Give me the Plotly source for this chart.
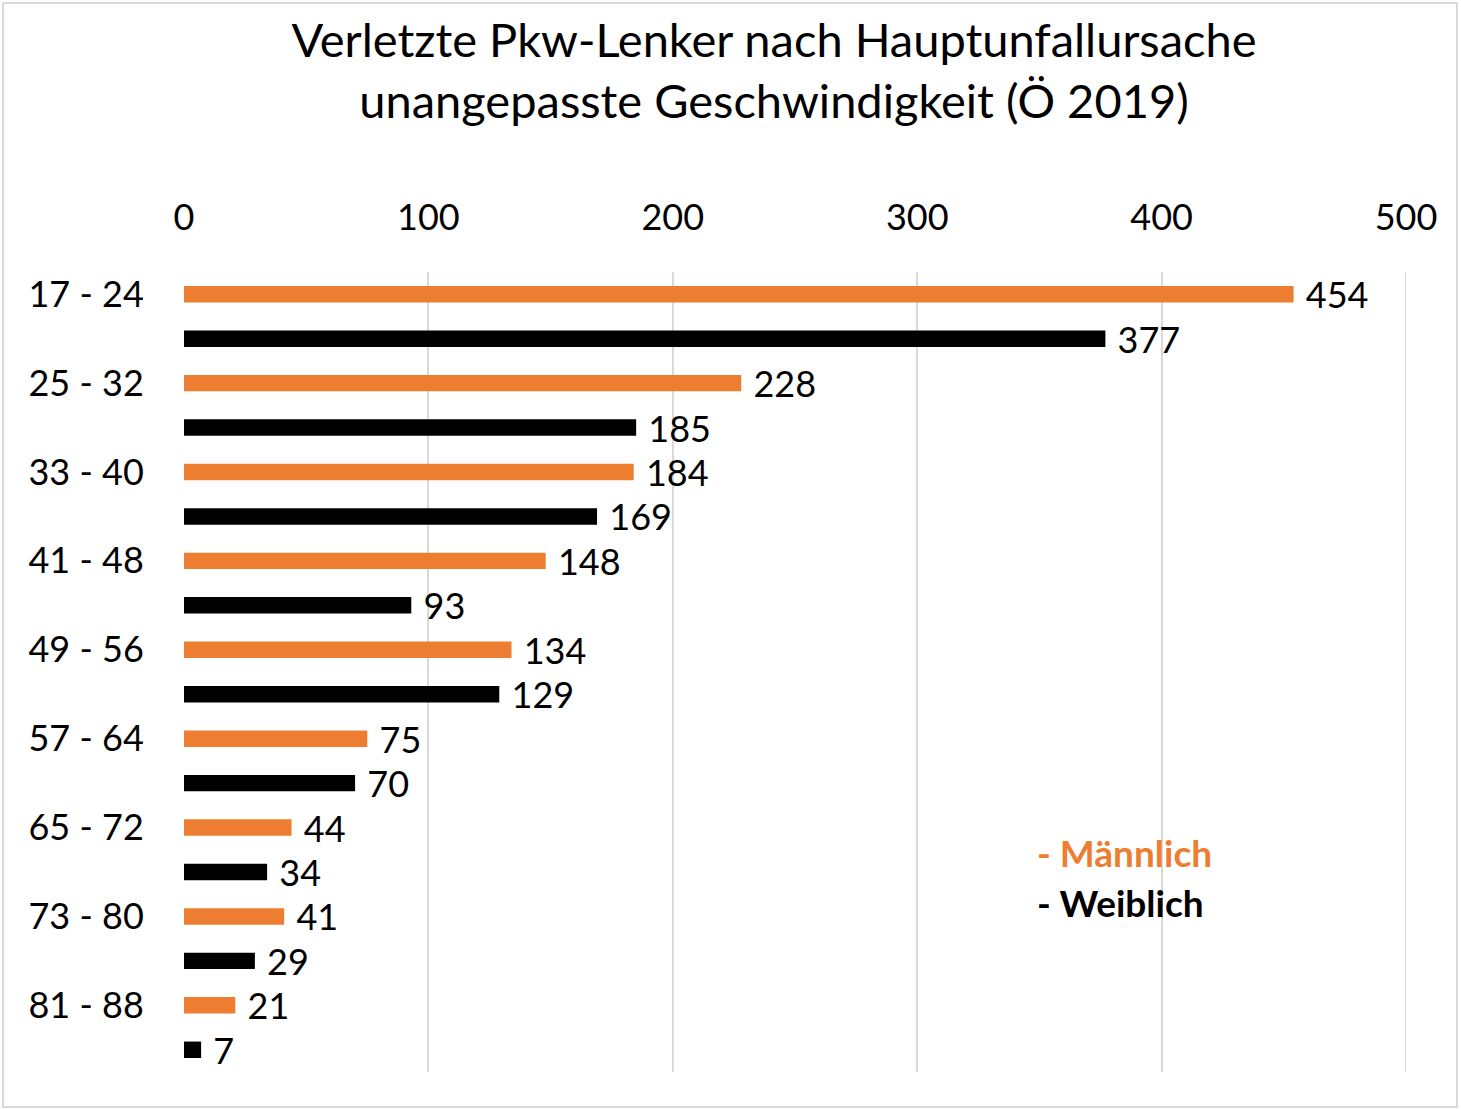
import plotly.graph_objects as go

ages = ["17 - 24", "25 - 32", "33 - 40", "41 - 48", "49 - 56", "57 - 64", "65 - 72", "73 - 80", "81 - 88"]
maennlich = [454, 228, 184, 148, 134, 75, 44, 41, 21]
weiblich = [377, 185, 169, 93, 129, 70, 34, 29, 7]
x_ticks = [0, 100, 200, 300, 400, 500]

ORANGE = "#ED7D31"
BLACK = "#000000"
GRID = "#d9d9d9"
FONT = "Lato"
NB = "\u00a0"

y_m = [2 * i for i in range(len(ages))]
y_w = [2 * i + 1 for i in range(len(ages))]

fig = go.Figure()
fig.add_trace(go.Bar(
    x=maennlich, y=y_m, orientation="h", name="Männlich",
    marker=dict(color=ORANGE, line=dict(width=0)), width=0.37,
    text=[NB + str(v) for v in maennlich], textposition="outside",
    textfont=dict(family=FONT, size=36, color=BLACK),
    constraintext="none", cliponaxis=False, showlegend=False,
))
fig.add_trace(go.Bar(
    x=weiblich, y=y_w, orientation="h", name="Weiblich",
    marker=dict(color=BLACK, line=dict(width=0)), width=0.37,
    text=[NB + str(v) for v in weiblich], textposition="outside",
    textfont=dict(family=FONT, size=36, color=BLACK),
    constraintext="none", cliponaxis=False, showlegend=False,
))

fig.update_layout(
    width=1461, height=1109,
    margin=dict(l=184, r=55, t=272, b=37),
    paper_bgcolor="white", plot_bgcolor="white",
    font=dict(family=FONT, size=36, color=BLACK),
    barmode="overlay",
    title=dict(
        text="Verletzte Pkw-Lenker nach Hauptunfallursache<br>unangepasste Geschwindigkeit (Ö 2019)",
        x=774 / 1461, xanchor="center", xref="container",
        y=1 - 57 / 1109, yanchor="middle", yref="container",
        font=dict(family=FONT, size=47, color=BLACK),
    ),
    xaxis=dict(
        side="top", range=[0, 500], tickvals=x_ticks,
        showgrid=True, gridcolor=GRID, gridwidth=2,
        zeroline=False, showline=False,
        ticks="outside", ticklen=27, tickcolor="rgba(0,0,0,0)",
        tickfont=dict(family=FONT, size=36, color=BLACK),
    ),
    yaxis=dict(
        range=[17.5, -0.5], tickvals=y_m, ticktext=ages,
        showgrid=False, zeroline=False, showline=False,
        ticks="outside", ticklen=32, tickcolor="rgba(0,0,0,0)",
        tickfont=dict(family=FONT, size=36, color=BLACK),
    ),
    annotations=[
        dict(text="<b>- Männlich</b>", xref="paper", yref="paper",
             x=(1035 - 184) / 1222, y=(1072 - 852) / 800, xanchor="left", yanchor="middle",
             showarrow=False, font=dict(family=FONT, size=37, color=ORANGE)),
        dict(text="<b>- Weiblich</b>", xref="paper", yref="paper",
             x=(1035 - 184) / 1222, y=(1072 - 902) / 800, xanchor="left", yanchor="middle",
             showarrow=False, font=dict(family=FONT, size=37, color=BLACK)),
    ],
    shapes=[
        dict(type="rect", xref="paper", yref="paper",
             x0=(3 - 184) / 1222, x1=(1457 - 184) / 1222,
             y0=(1072 - 1107) / 800, y1=(1072 - 3) / 800,
             line=dict(color=GRID, width=2), fillcolor="rgba(0,0,0,0)", layer="below"),
        dict(type="line", xref="x", yref="paper",
             x0=x_ticks[-1], x1=x_ticks[-1], y0=0, y1=1,
             line=dict(color=GRID, width=2), layer="below"),
    ],
)

fig.write_html("out.html", post_script="document.body.style.margin='0';",
               config={"displayModeBar": False})
